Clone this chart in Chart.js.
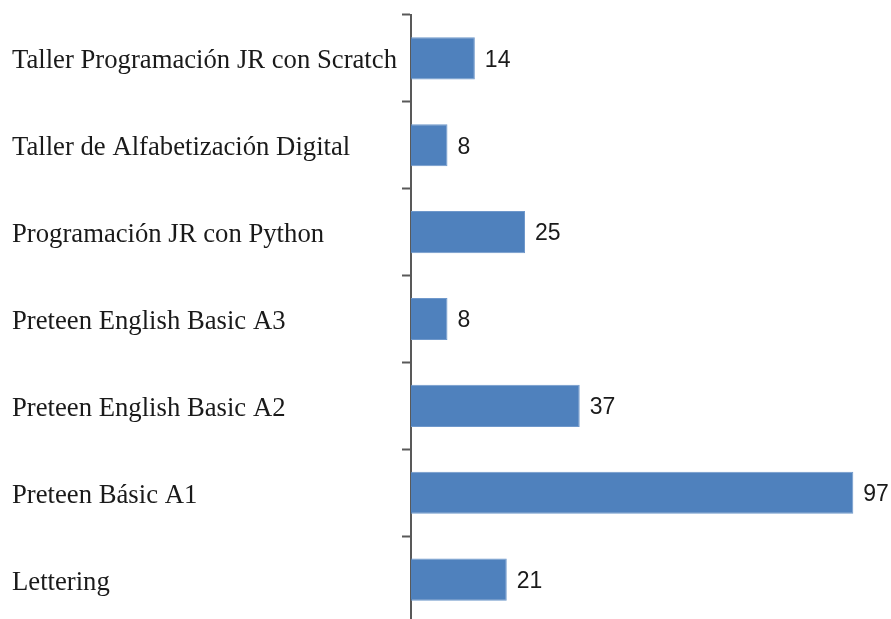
<!DOCTYPE html>
<html>
<head>
<meta charset="utf-8">
<script src="https://cdn.jsdelivr.net/npm/chart.js@4/dist/chart.umd.min.js"></script>
<style>
  html, body { margin: 0; padding: 0; background: #fff; overflow: hidden; }
  #wrap { width: 891px; height: 619px; overflow: hidden; }
</style>
</head>
<body>
<div id="wrap"><canvas id="c" width="891" height="630"></canvas></div>
<script>
const categories = [
  "Taller Programación JR con Scratch",
  "Taller de Alfabetización Digital",
  "Programación JR con Python",
  "Preteen English Basic A3",
  "Preteen English Basic A2",
  "Preteen Básic A1",
  "Lettering"
];
const values = [14, 8, 25, 8, 37, 97, 21];

const valueLabels = {
  id: 'valueLabels',
  afterDatasetsDraw(chart) {
    const ctx = chart.ctx;
    const meta = chart.getDatasetMeta(0);
    ctx.save();
    ctx.font = '23px "Liberation Sans", Arial, sans-serif';
    ctx.fillStyle = '#1a1a1a';
    ctx.textAlign = 'left';
    ctx.textBaseline = 'middle';
    meta.data.forEach((bar, i) => {
      ctx.fillText(String(values[i]), bar.x + 10, bar.y + 2);
    });
    ctx.restore();
  }
};

new Chart(document.getElementById('c'), {
  type: 'bar',
  data: {
    labels: categories,
    datasets: [{
      data: values,
      backgroundColor: '#4F81BD',
      borderColor: '#6F98CB',
      borderWidth: 1,
      barPercentage: 0.97,
      categoryPercentage: 0.5
    }]
  },
  options: {
    indexAxis: 'y',
    responsive: false,
    animation: false,
    layout: { padding: { left: 12, top: 15, right: 24, bottom: 7 } },
    plugins: { legend: { display: false }, tooltip: { enabled: false } },
    scales: {
      x: { display: false, min: 0, max: 100 },
      y: {
        afterFit(axis) { axis.width = 399; axis.paddingTop = 0; axis.paddingBottom = 0; },
        border: { display: true, color: '#595959', width: 2 },
        grid: {
          display: true,
          drawOnChartArea: false,
          drawTicks: true,
          tickLength: 9,
          tickWidth: 2,
          tickColor: '#595959',
          offset: true
        },
        ticks: {
          crossAlign: 'far',
          labelOffset: 3,
          color: '#1a1a1a',
          font: { family: '"Liberation Serif", "Times New Roman", serif', size: 26.7 }
        }
      }
    }
  },
  plugins: [valueLabels]
});
</script>
</body>
</html>
